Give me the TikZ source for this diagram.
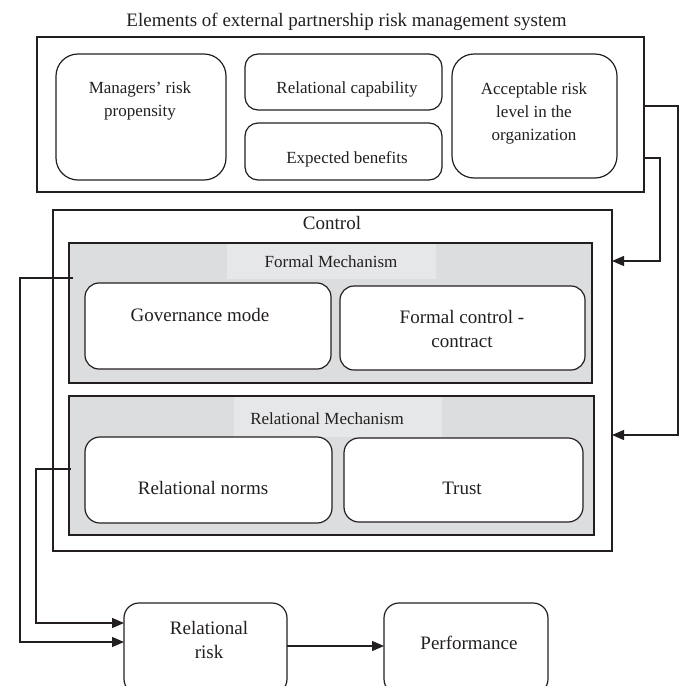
\documentclass[tikz,border=0pt]{standalone}
\usepackage{fontspec}
\setmainfont{Liberation Serif}
\usetikzlibrary{arrows.meta,calc}
\definecolor{ink}{HTML}{231F20}
\definecolor{mechgray}{HTML}{DCDDDE}
\definecolor{bandgray}{HTML}{E6E7E8}
\begin{document}
\begin{tikzpicture}[x=1pt,y=-1pt,
  box/.style={draw=ink, line width=1.2pt, inner sep=0pt, outer sep=0pt, anchor=north west},
  rbox/.style={box, rounded corners=#1, fill=white},
  mech/.style={box, fill=mechgray},
  band/.style={fill=bandgray, draw=none, inner sep=0pt, outer sep=0pt, anchor=north west},
  small/.style={font=\fontsize{17}{23}\selectfont, align=center, inner sep=0pt, text=ink},
  big/.style={font=\fontsize{19}{24}\selectfont, align=center, inner sep=0pt, text=ink},
  wire/.style={draw=ink, line width=1.2pt},
  arr/.style={wire, -{Triangle[length=12pt,width=10pt]}}
]
\useasboundingbox (0,0) rectangle (681,686);
\fill[white] (0,0) rectangle (681,686);
\clip (0,0) rectangle (681,686);

% title
\node[big] (title) at (346.5,22) {Elements of external partnership risk management system};

% top box
\node[box, minimum width=607pt, minimum height=155pt] (elems) at (37,37) {};
\node[rbox=22pt, minimum width=170pt, minimum height=126pt] (mgr) at (56,54) {};
\node[rbox=13pt, minimum width=197pt, minimum height=56pt] (relcap) at (245,54) {};
\node[rbox=13pt, minimum width=197pt, minimum height=57pt] (expben) at (245,123) {};
\node[rbox=22pt, minimum width=165pt, minimum height=124pt] (accept) at (452,54) {};
\node[small] (mgrT) at (140,101) {Managers' risk\\propensity};
\node[small] (relcapT) at (347,89) {Relational capability};
\node[small] (expbenT) at (347,159) {Expected benefits};
\node[small] (acceptT) at (534,113) {Acceptable risk\\level in the\\organization};

% control
\node[box, minimum width=559pt, minimum height=341pt] (ctrl) at (53,210) {};
\node[big] (ctrlT) at (332,223) {Control};

% formal mechanism
\node[mech, minimum width=523pt, minimum height=140pt] (fm) at (69,243) {};
\node[band, minimum width=209pt, minimum height=35pt] (fmband) at (227,244) {};
\node[small] (fmT) at (331,262) {Formal Mechanism};
\node[rbox=14pt, minimum width=246pt, minimum height=86pt] (gov) at (85,283) {};
\node[rbox=14pt, minimum width=245pt, minimum height=84pt] (fcc) at (340,286) {};
\node[big] (govT) at (200,315) {Governance mode};
\node[big] (fccT) at (462,329) {Formal control -\\contract};

% relational mechanism
\node[mech, minimum width=525pt, minimum height=139pt] (rm) at (69,396) {};
\node[band, minimum width=208pt, minimum height=40pt] (rmband) at (234,397) {};
\node[small] (rmT) at (327,419) {Relational Mechanism};
\node[rbox=15pt, minimum width=247pt, minimum height=86pt] (rn) at (85,437) {};
\node[rbox=15pt, minimum width=239pt, minimum height=84pt] (tr) at (344,438) {};
\node[big] (rnT) at (203,488) {Relational norms};
\node[big] (trT) at (462,488) {Trust};

% bottom
\node[rbox=15pt, minimum width=163pt, minimum height=91pt] (rr) at (124,603) {};
\node[rbox=15pt, minimum width=164pt, minimum height=91pt] (perf) at (384,603) {};
\node[big] (rrT) at (209,640) {Relational\\risk};
\node[big] (perfT) at (469,643) {Performance};

% connectors right
\coordinate (b1) at (678,106);
\coordinate (b2) at (678,435);
\draw[arr] (elems.east |- b1) -- (b1) -- (b2) -- (ctrl.east |- b2);
\coordinate (b3) at (660,158);
\coordinate (b4) at (660,261);
\draw[arr] (elems.east |- b3) -- (b3) -- (b4) -- (ctrl.east |- b4);

% connectors left
\coordinate (l1s) at (73,278);
\coordinate (l1a) at (20,278);
\coordinate (l1b) at (20,642);
\draw[arr] (l1s) -- (l1a) -- (l1b) -- (rr.west |- l1b);
\coordinate (l2s) at (71,469);
\coordinate (l2a) at (36,469);
\coordinate (l2b) at (36,623);
\draw[arr] (l2s) -- (l2a) -- (l2b) -- (rr.west |- l2b);

% relational risk -> performance
\coordinate (m1) at (287,646);
\draw[arr] (rr.east |- m1) -- (perf.west |- m1);
\end{tikzpicture}
\end{document}
